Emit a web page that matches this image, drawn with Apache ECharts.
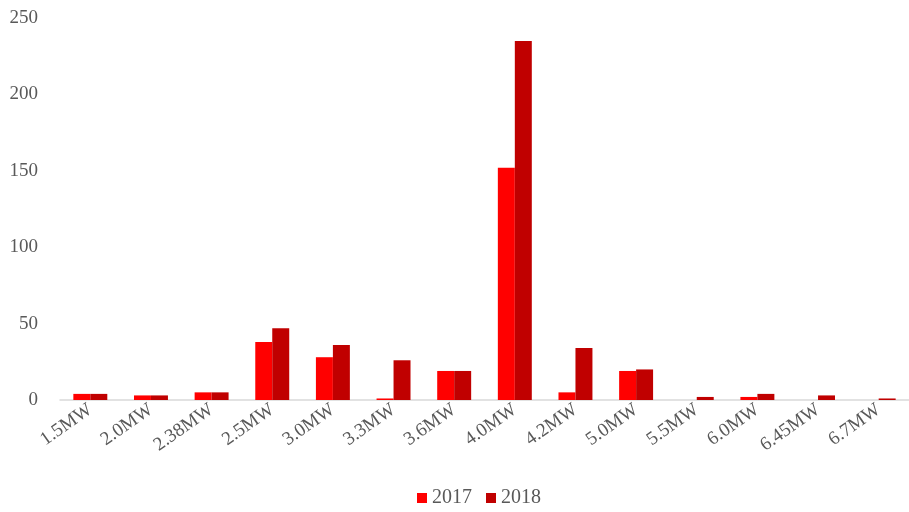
<!DOCTYPE html>
<html>
<head>
<meta charset="utf-8">
<script src="https://cdn.jsdelivr.net/npm/echarts@6/dist/echarts.min.js"></script>
<style>
  html, body { margin: 0; padding: 0; background: #fff; }
  #chart { width: 909px; height: 512px; }
</style>
</head>
<body>
<div id="chart"></div>
<script>
// 机型类别
const categories = ['1.5MW', '2.0MW', '2.38MW', '2.5MW', '3.0MW', '3.3MW', '3.6MW', '4.0MW', '4.2MW', '5.0MW', '5.5MW', '6.0MW', '6.45MW', '6.7MW']
const data2017 = [4, 3, 5, 38, 28, 1, 19, 152, 5, 19, 0, 2, 0, 0]
const data2018 = [4, 3, 5, 47, 36, 26, 19, 235, 34, 20, 2, 4, 3, 1]
const yTicks = [0, 50, 100, 150, 200, 250]

const font = 'Liberation Serif'
const chart = echarts.init(document.getElementById('chart'))

let option = {
  animation: false,
  color: ['#ff0000', '#c00000'],
  grid: {
    left: 60,
    right: 0,
    top: 18,
    bottom: 112,
  },
  legend: {
    bottom: -1,
    left: 412,
    itemWidth: 10,
    itemHeight: 10,
    itemGap: 14,
    icon: 'rect',
    textStyle: { color: '#595959', fontFamily: font, fontSize: 20 },
    data: ['2017', '2018'],
  },
  xAxis: {
    type: 'category',
    data: categories,
    axisTick: { show: false },
    axisLine: { lineStyle: { color: '#d9d9d9', width: 1.5 } },
    axisLabel: {
      interval: 0,
      rotate: 35,
      color: '#595959',
      fontFamily: font,
      fontSize: 19,
      margin: 8,
    },
  },
  yAxis: {
    type: 'value',
    min: yTicks[0],
    max: yTicks[yTicks.length - 1],
    interval: 50,
    splitLine: { show: false },
    axisLine: { show: false },
    axisTick: { show: false },
    axisLabel: {
      color: '#595959',
      fontFamily: font,
      fontSize: 19,
      margin: 22,
    },
  },
  series: [
    {
      name: '2017',
      type: 'bar',
      data: data2017,
      barGap: '0%',
      barCategoryGap: '44%',
    },
    {
      name: '2018',
      type: 'bar',
      data: data2018,
      barGap: '0%',
      barCategoryGap: '44%',
    },
  ],
}
chart.setOption(option)
</script>
</body>
</html>
